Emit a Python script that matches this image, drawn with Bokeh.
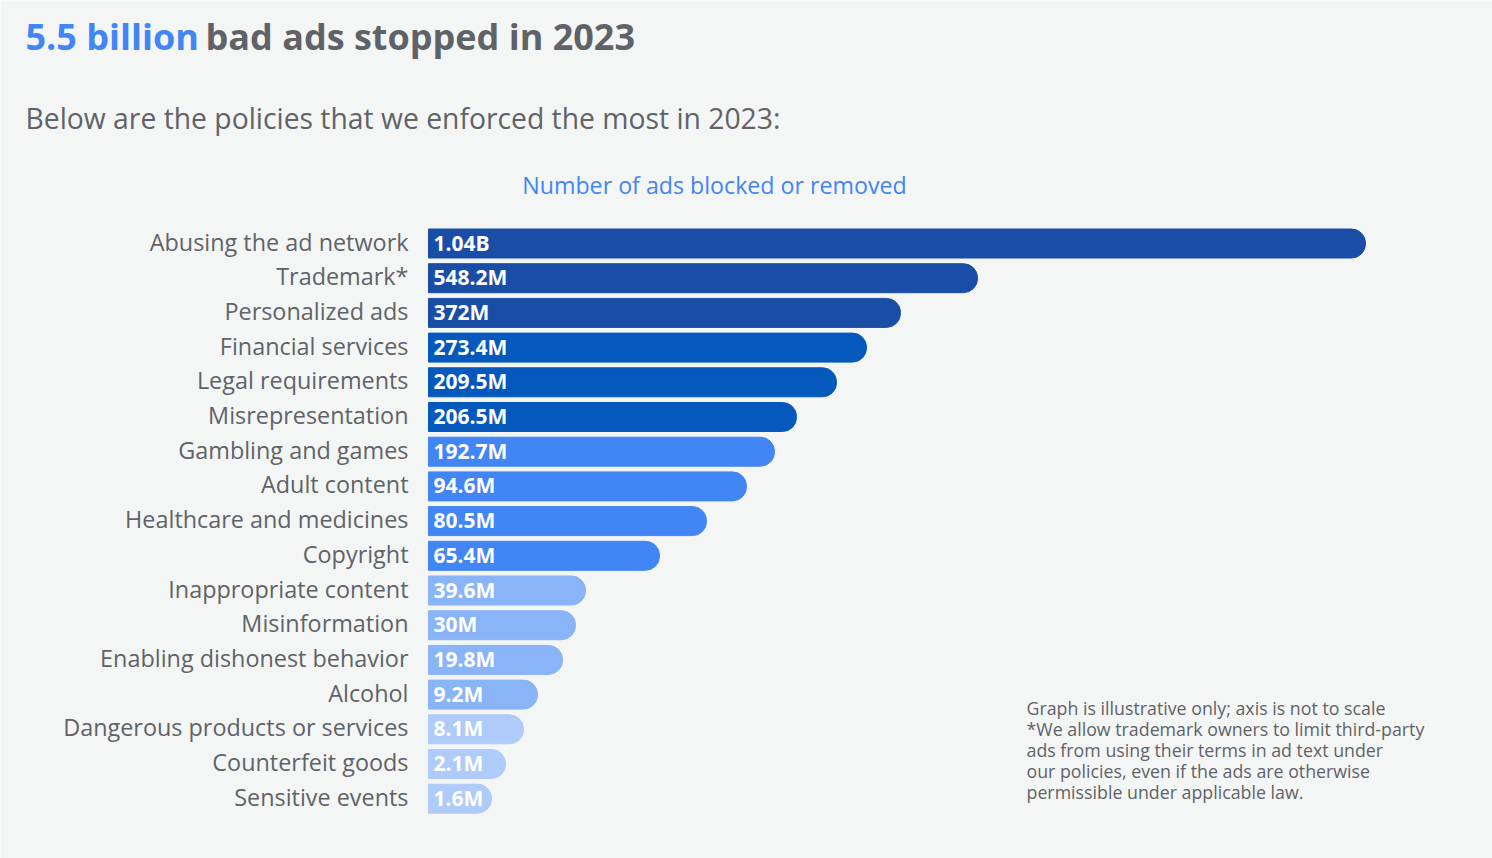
from bokeh.core.properties import value
from bokeh.embed import file_html
from bokeh.models import ColumnDataSource, Label, Range1d
from bokeh.plotting import figure
from bokeh.resources import INLINE

# data (bar lengths are illustrative, the axis is not to scale)
policies = [
    "Abusing the ad network", "Trademark*", "Personalized ads", "Financial services",
    "Legal requirements", "Misrepresentation", "Gambling and games", "Adult content",
    "Healthcare and medicines", "Copyright", "Inappropriate content", "Misinformation",
    "Enabling dishonest behavior", "Alcohol", "Dangerous products or services",
    "Counterfeit goods", "Sensitive events",
]
counts = [
    "1.04B", "548.2M", "372M", "273.4M", "209.5M", "206.5M", "192.7M", "94.6M",
    "80.5M", "65.4M", "39.6M", "30M", "19.8M", "9.2M", "8.1M", "2.1M", "1.6M",
]
display_length = [937, 549, 472, 438, 408, 368, 346, 318, 278, 231, 157, 147, 134, 109, 95, 77, 63]

notes = [
    "Graph is illustrative only; axis is not to scale",
    "*We allow trademark owners to limit third-party",
    "ads from using their terms in ad text under",
    "our policies, even if the ads are otherwise",
    "permissible under applicable law.",
]

BG = "#F4F6F6"
GREY = "#5F6368"
BLUE = "#4285F4"
FONT = "Open Sans"
shades = ["#1A4EA6"] * 3 + ["#0559BD"] * 3 + ["#4285F4"] * 4 + ["#8AB4F8"] * 4 + ["#AECBFA"] * 3

W, H = 1492, 858
X0 = 428        # page x where bars start
ROW0 = 243      # page y of the first row centre
ROW = 34.7      # row pitch in px

rows = list(range(len(policies)))
source = ColumnDataSource(dict(row=rows, policy=policies, count=counts,
                               length=display_length, color=shades))

p = figure(width=W, height=H, x_range=Range1d(-X0, W - X0),
           y_range=Range1d((H - ROW0) / ROW, -ROW0 / ROW),
           output_backend="svg", toolbar_location=None,
           min_border=0, background_fill_color=BG, border_fill_color=BG,
           outline_line_color=None)
p.xaxis.visible = False
p.yaxis.visible = False
p.grid.visible = False

p.hbar(y="row", left=0, right="length", height=0.836, color="color", source=source,
       border_radius=(0, 14, 14, 0))
p.text(x=0, y="row", text="count", x_offset=5, y_offset=-1, text_baseline="middle",
       text_color="white", text_font=value(FONT), text_font_style="bold",
       text_font_size="21px", source=source)
p.text(x=0, y="row", text="policy", x_offset=-20, y_offset=-2, text_align="right",
       text_baseline="middle", text_color=GREY, text_font=value(FONT),
       text_font_size="23.4px", source=source)


def label(text, px, py, size, color, bold=False, align="left"):
    # py is the baseline in page pixels; shift for how the label anchors its baseline
    py = py - 0.4 * size
    p.add_layout(Label(x=px - X0, y=(py - ROW0) / ROW, text=text,
                       text_font=FONT, text_font_size=f"{size}px", text_color=color,
                       text_font_style="bold" if bold else "normal",
                       text_align=align, text_baseline="alphabetic"))


label("5.5 billion", 25, 50, 36, BLUE, bold=True)
label("bad ads stopped in 2023", 205, 50, 36, GREY, bold=True)
label("Below are the policies that we enforced the most in 2023:", 25, 129, 28.3, GREY)
label("Number of ads blocked or removed", 714, 194, 23.2, BLUE, align="center")
for i, line in enumerate(notes):
    label(line, 1026, 715 + 21 * i, 17.8, GREY)

open("out.html", "w").write(file_html(p, INLINE))
